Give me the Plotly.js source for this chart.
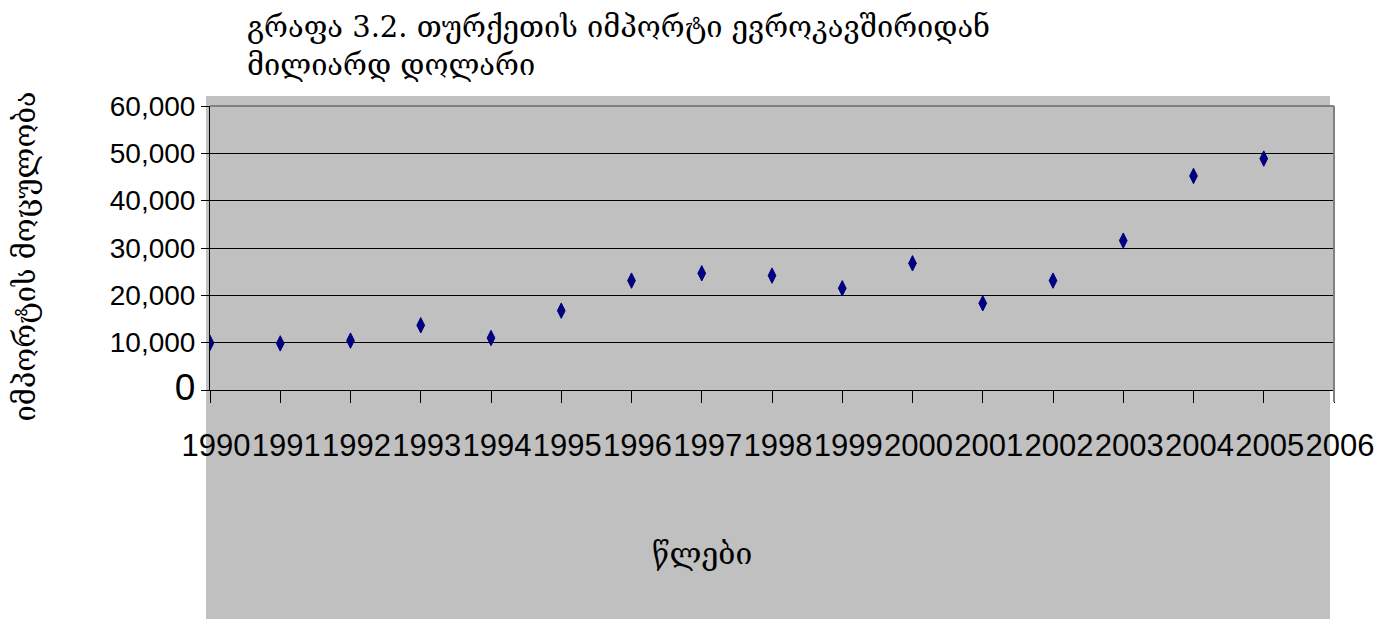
<!DOCTYPE html>
<html>
<head>
<meta charset="utf-8">
<script src="https://cdn.plot.ly/plotly-3.0.1.min.js"></script>
<style>html,body{margin:0;padding:0;background:#fff;}#chart{width:1379px;height:619px;}</style>
</head>
<body>
<div id="chart"></div>
<script>
// Data
const years = [1990, 1991, 1992, 1993, 1994, 1995, 1996, 1997, 1998, 1999, 2000, 2001, 2002, 2003, 2004, 2005];
const imports = [9950, 9850, 10440, 13670, 10990, 16760, 23110, 24660, 24170, 21490, 26770, 18320, 23110, 31560, 45220, 48890];
const yTickVals = [0, 10000, 20000, 30000, 40000, 50000, 60000];
const yTickText = ['<span style="font-size:37px">0</span>', '10,000', '20,000', '30,000', '40,000', '50,000', '60,000'];
const xTickVals = [1990, 1991, 1992, 1993, 1994, 1995, 1996, 1997, 1998, 1999, 2000, 2001, 2002, 2003, 2004, 2005, 2006];
const titleText = 'გრაფა 3.2. თურქეთის იმპორტი ევროკავშირიდან<br>მილიარდ დოლარი';
const yTitleText = 'იმპორტის მოცულობა';
const xTitleText = 'წლები';

const geoFont = '"DejaVu Serif", "DejaVu Sans", serif';
const numFont = '"Liberation Sans", Arial, sans-serif';

const trace = {
  x: years,
  y: imports,
  type: 'scatter',
  mode: 'markers',
  marker: {symbol: 'diamond-tall', size: 11, color: '#000080', line: {width: 1, color: '#000080'}},
  hoverinfo: 'x+y'
};

const layout = {
  width: 1379,
  height: 619,
  margin: {l: 210, r: 45, t: 106, b: 229, pad: 0},
  paper_bgcolor: '#ffffff',
  plot_bgcolor: '#c0c0c0',
  showlegend: false,
  xaxis: {
    type: 'linear',
    range: [1990, 2006],
    tickvals: xTickVals,
    ticktext: xTickVals.map(String),
    tickangle: 0,
    ticks: 'outside', ticklen: 12, tickwidth: 1, tickcolor: '#000',
    tickfont: {family: numFont, size: 31, color: '#000'},
    ticklabelstandoff: 16,
    ticklabelshift: 6,
    showgrid: false,
    zeroline: false,
    showline: true, linecolor: '#000', linewidth: 1,
    fixedrange: true
  },
  yaxis: {
    range: [0, 60000],
    tickvals: yTickVals,
    ticktext: yTickText,
    ticks: 'outside', ticklen: 8, tickwidth: 1, tickcolor: '#000',
    tickfont: {family: numFont, size: 28, color: '#000'},
    showgrid: true, gridcolor: '#000', gridwidth: 1,
    zeroline: false,
    showline: true, linecolor: '#000', linewidth: 1,
    fixedrange: true
  },
  shapes: [
    {type: 'rect', xref: 'paper', yref: 'paper', layer: 'below',
     x0: -4 / 1124, x1: 1120 / 1124, y0: -229 / 284, y1: 294 / 284,
     fillcolor: '#c0c0c0', line: {width: 0}},
    {type: 'line', xref: 'paper', yref: 'paper', layer: 'above',
     x0: 0, x1: 1, y0: 1, y1: 1, line: {color: '#808080', width: 2}},
    {type: 'line', xref: 'paper', yref: 'paper', layer: 'above',
     x0: 1, x1: 1, y0: -12 / 284, y1: 1, line: {color: '#808080', width: 2}}
  ],
  annotations: [
    {text: titleText, xref: 'paper', yref: 'paper', x: 35 / 1124, y: 382 / 284,
     xanchor: 'left', yanchor: 'top', align: 'left', showarrow: false,
     font: {family: geoFont, size: 29, color: '#000'}},
    {text: yTitleText, xref: 'paper', yref: 'paper', x: -185 / 1124, y: 0.47,
     xanchor: 'center', yanchor: 'middle', textangle: -90, showarrow: false,
     font: {family: geoFont, size: 29, color: '#000'}},
    {text: xTitleText, xref: 'paper', yref: 'paper', x: 492 / 1124, y: -163 / 284,
     xanchor: 'center', yanchor: 'middle', showarrow: false,
     font: {family: geoFont, size: 30, color: '#000'}}
  ]
};

Plotly.newPlot('chart', [trace], layout, {displayModeBar: false, staticPlot: true});
</script>
</body>
</html>
